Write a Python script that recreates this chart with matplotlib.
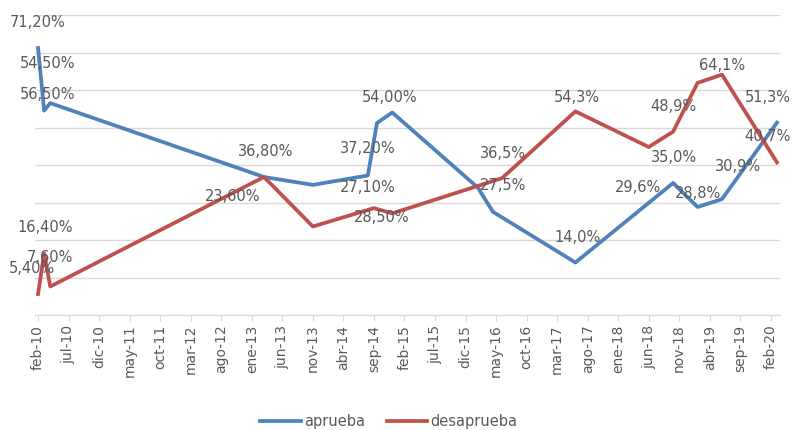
import matplotlib.pyplot as plt
import numpy as np

# months counted from feb-10
aprueba_mes = [0, 1, 2, 37, 45, 54, 55.5, 58, 72, 74.5, 88, 104, 108, 112, 121]
aprueba_val = [71.2, 54.5, 56.5, 36.8, 34.7, 37.2, 51.2, 54.0, 34.0, 27.5, 14.0, 35.2, 28.8, 30.9, 51.3]

desaprueba_mes = [0, 1, 2, 37, 45, 55, 58, 76, 88, 100, 104, 108, 112, 121]
desaprueba_val = [5.6, 16.4, 7.6, 36.8, 23.6, 28.5, 27.1, 36.5, 54.3, 44.8, 48.9, 61.9, 64.1, 40.7]

tick_labels = ["feb-10", "jul-10", "dic-10", "may-11", "oct-11", "mar-12", "ago-12",
               "ene-13", "jun-13", "nov-13", "abr-14", "sep-14", "feb-15", "jul-15",
               "dic-15", "may-16", "oct-16", "mar-17", "ago-17", "ene-18", "jun-18",
               "nov-18", "abr-19", "sep-19", "feb-20"]

# data labels as they sit on the original chart: (text, month, value)
etiquetas = [
    ("71,20%", 0, 77.9), ("54,50%", 1.5, 67.2), ("56,50%", 1.5, 58.7),
    ("36,80%", 37.2, 43.5), ("23,60%", 31.9, 31.5), ("16,40%", 1.1, 23.2),
    ("7,60%", 2.0, 15.2), ("5,40%", -1.0, 12.5), ("37,20%", 54.0, 44.3),
    ("27,10%", 54.0, 34.1), ("28,50%", 56.3, 26.1), ("54,00%", 57.6, 58.1),
    ("36,5%", 76.1, 43.2), ("27,5%", 76.1, 34.4), ("54,3%", 88.3, 57.9),
    ("14,0%", 88.3, 20.8), ("48,9%", 104.1, 55.5), ("35,0%", 104.1, 41.9),
    ("29,6%", 98.2, 34.1), ("28,8%", 108.1, 32.5), ("64,1%", 112.0, 66.4),
    ("51,3%", 119.5, 57.9), ("40,7%", 119.5, 47.5), ("30,9%", 114.6, 39.5),
]

BLUE = "#4f81bd"
RED = "#c0504d"
GRAY = "#595959"

fig = plt.figure(figsize=(7.93, 4.30), dpi=100)
ax = fig.add_axes([35 / 793, 115 / 430, 745 / 793, 300 / 430])

ax.plot(aprueba_mes, aprueba_val, color=BLUE, lw=2.7, label="aprueba", zorder=3)
ax.plot(desaprueba_mes, desaprueba_val, color=RED, lw=2.7, label="desaprueba", zorder=3)

for txt, m, v in etiquetas:
    ax.text(m, v, txt, ha="center", va="center", fontsize=10.5, color=GRAY, zorder=4)

ax.set_xlim(-0.5, 121.5)
ax.set_ylim(0, 80)
ax.set_yticks(np.arange(0, 81, 10))
ax.set_yticklabels([])
ax.tick_params(axis="y", length=0)
ax.grid(axis="y", color="#d9d9d9", lw=1)
ax.set_axisbelow(True)

ax.set_xticks(np.arange(0, 121, 5))
ax.set_xticklabels(tick_labels, rotation=90, fontsize=10, color=GRAY)
ax.tick_params(axis="x", length=4, color="#d9d9d9", pad=3)

for s in ["top", "right", "left"]:
    ax.spines[s].set_visible(False)
ax.spines["bottom"].set_color("#d9d9d9")

fig.legend(loc="center", bbox_to_anchor=(0.49, 0.02), ncol=2, frameon=False,
           fontsize=10.5, handlelength=2.8, columnspacing=1.5, handletextpad=0.2,
           labelcolor=GRAY)

fig.savefig("out.png", dpi=100)
